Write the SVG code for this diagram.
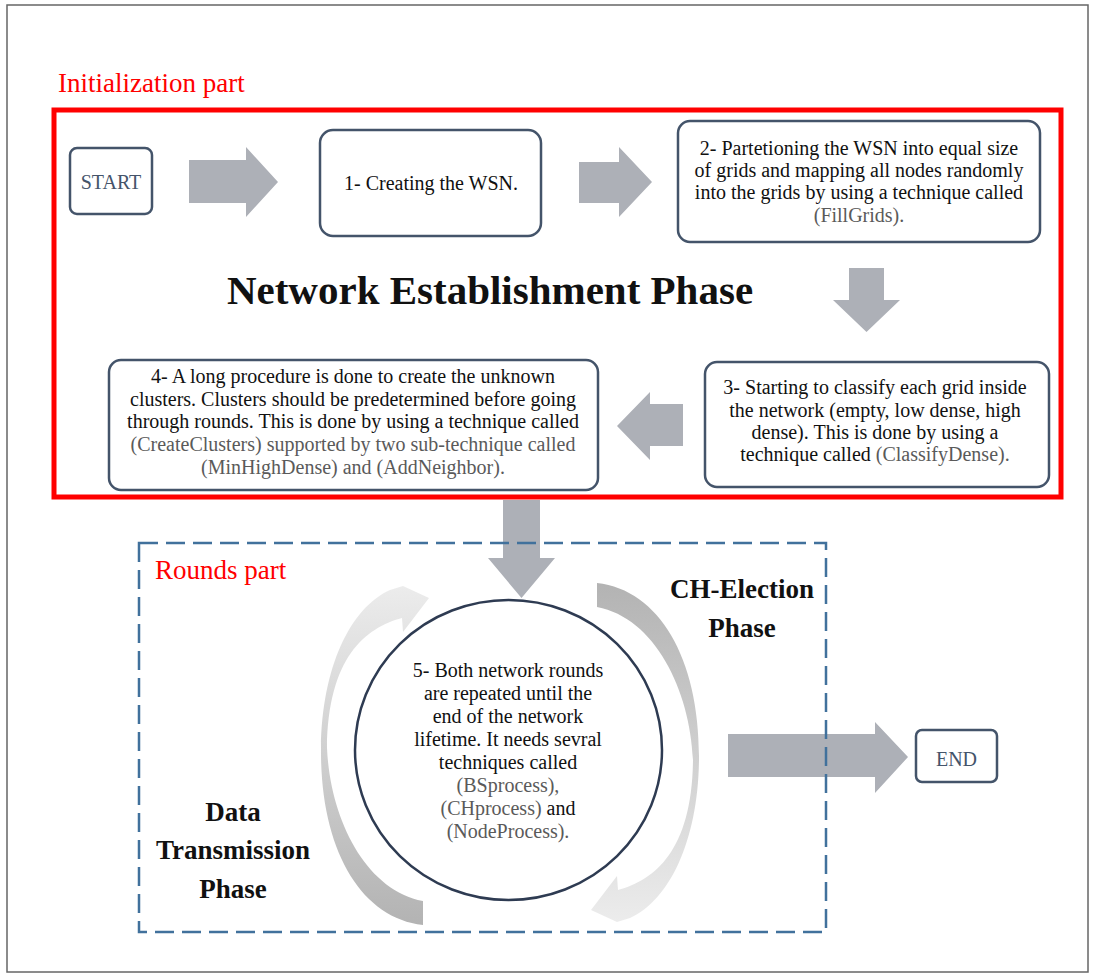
<svg xmlns="http://www.w3.org/2000/svg" width="1094" height="978" viewBox="0 0 1094 978">
  <defs>
    <style>
      text { font-family: "Liberation Serif", "Times New Roman", serif; }
      .box { fill: #ffffff; stroke: #44546a; stroke-width: 2.5; }
      .body { font-size: 20px; fill: #111111; text-anchor: middle; }
      .tech { fill: #5a5a5a; }
      .term { font-size: 20px; fill: #44546a; text-anchor: middle; }
      .phase { font-size: 27px; font-weight: bold; fill: #111111; text-anchor: middle; }
      .part { font-size: 27px; fill: #ff0000; }
      .block { fill: #adb0b7; }
    </style>
    <linearGradient id="sweep" x1="0" y1="0" x2="0" y2="1">
      <stop offset="0" stop-color="#b3b3b3"/>
      <stop offset="0.5" stop-color="#cfcfcf"/>
      <stop offset="1" stop-color="#ececec"/>
    </linearGradient>
    <!-- crescent arrow running clockwise down the right side of the round -->
    <path id="crescent" d="M 597 583 C 660 590 700 660 699 760 C 698 840 670 900 630 918 L 617 922 L 591 910 L 617 876 L 618 890 C 655 880 692 850 693 760 C 690 690 655 618 597 607 Z"/>
  </defs>

  <!-- page frame -->
  <rect x="7" y="5" width="1081" height="967" fill="#ffffff" stroke="#666666" stroke-width="1.5"/>

  <!-- initialization section -->
  <text class="part" x="58" y="92">Initialization part</text>
  <rect x="54" y="110" width="1007" height="387" fill="none" stroke="#ff0000" stroke-width="5"/>
  <text x="490" y="304" font-size="41" font-weight="bold" fill="#111111" text-anchor="middle">Network Establishment Phase</text>

  <!-- block arrows -->
  <g id="connectors">
    <path class="block" d="M189 160 H246 V147 L278 182 L246 217 V203 H189 Z"/>
    <path class="block" d="M579 162 H619 V147 L652 182 L619 217 V203 H579 Z"/>
    <path class="block" d="M849 268 H884 V300 H900 L866.5 332 L833 300 H849 Z"/>
    <path class="block" d="M683 404 H650 V392 L617 426 L650 460 V446 H683 Z"/>
    <path class="block" d="M503 500 H540 V558 H555 L521.5 598 L488 558 H503 Z"/>
    <path class="block" d="M728 734 H875 V722 L908 757 L875 793 V777 H728 Z"/>
    <use href="#crescent" fill="url(#sweep)"/>
    <use href="#crescent" fill="url(#sweep)" transform="rotate(180 510 754)"/>
  </g>

  <g id="start">
    <rect class="box" x="70" y="148" width="82" height="66" rx="7"/>
    <text class="term" x="111" y="189">START</text>
  </g>

  <g id="step1">
    <rect class="box" x="320" y="130" width="221" height="106" rx="13"/>
    <text class="body" x="431" y="190">1- Creating the WSN.</text>
  </g>

  <g id="step2">
    <rect class="box" x="678" y="121" width="362" height="121" rx="12"/>
    <text class="body" x="859" y="155">2- Partetioning the WSN into equal size</text>
    <text class="body" x="859" y="177">of grids and mapping all nodes randomly</text>
    <text class="body" x="859" y="199">into the grids by using a technique called</text>
    <text class="body tech" x="859" y="222">(FillGrids).</text>
  </g>

  <g id="step3">
    <rect class="box" x="705" y="362" width="344" height="125" rx="12"/>
    <text class="body" x="875" y="394">3- Starting to classify each grid inside</text>
    <text class="body" x="875" y="417">the network (empty, low dense, high</text>
    <text class="body" x="875" y="439">dense). This is done by using a</text>
    <text class="body" x="875" y="461">technique called <tspan class="tech">(ClassifyDense).</tspan></text>
  </g>

  <g id="step4">
    <rect class="box" x="109" y="360" width="489" height="130" rx="12"/>
    <text class="body" x="353" y="383">4- A long procedure is done to create the unknown</text>
    <text class="body" x="353" y="406">clusters. Clusters should be predetermined before going</text>
    <text class="body" x="353" y="428">through rounds. This is done by using a technique called</text>
    <text class="body tech" x="353" y="451">(CreateClusters) supported by two sub-technique called</text>
    <text class="body tech" x="353" y="474">(MinHighDense) and (AddNeighbor).</text>
  </g>

  <!-- rounds section -->
  <rect x="139" y="543" width="687" height="389" fill="none" stroke="#41719c" stroke-width="2.5" stroke-dasharray="19 8"/>
  <text class="part" x="155" y="579">Rounds part</text>

  <g id="ch-election">
    <text class="phase" x="742" y="598">CH-Election</text>
    <text class="phase" x="742" y="637">Phase</text>
  </g>

  <g id="data-transmission">
    <text class="phase" x="233" y="821">Data</text>
    <text class="phase" x="233" y="859">Transmission</text>
    <text class="phase" x="233" y="898">Phase</text>
  </g>

  <g id="step5">
    <ellipse cx="508.5" cy="750" rx="153.5" ry="150" fill="#ffffff" stroke="#2e3b52" stroke-width="2.5"/>
    <text class="body" x="508" y="677">5- Both network rounds</text>
    <text class="body" x="508" y="700">are repeated until the</text>
    <text class="body" x="508" y="723">end of the network</text>
    <text class="body" x="508" y="746">lifetime. It needs sevral</text>
    <text class="body" x="508" y="769">techniques called</text>
    <text class="body tech" x="508" y="792">(BSprocess),</text>
    <text class="body" x="508" y="815"><tspan class="tech">(CHprocess)</tspan> and</text>
    <text class="body tech" x="508" y="838">(NodeProcess).</text>
  </g>

  <g id="end">
    <rect class="box" x="916" y="730" width="81" height="52" rx="6"/>
    <text class="term" x="956.5" y="766" font-size="25">END</text>
  </g>
</svg>
